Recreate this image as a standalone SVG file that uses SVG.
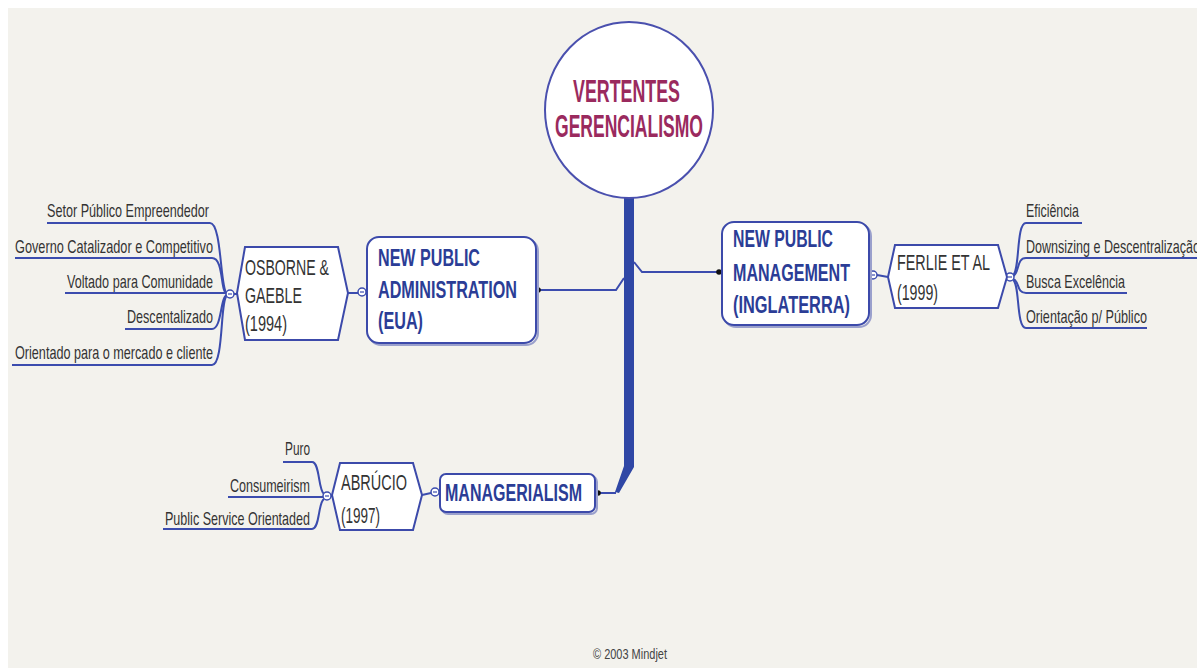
<svg xmlns="http://www.w3.org/2000/svg" width="1197" height="668" viewBox="0 0 1197 668">
<defs>
<style>
.bg{fill:#f3f2ed}
.box{fill:#ffffff;stroke:#3c4aaa;stroke-width:2}
.shadow{fill:none;stroke:#9aa0cc;stroke-width:2}
.hex{fill:#ffffff;stroke:#3c4aaa;stroke-width:2}
.ntext{font-family:"Liberation Sans",Arial,sans-serif;font-weight:bold;font-size:24px;fill:#2b3d96}
.htext{font-family:"Liberation Sans",Arial,sans-serif;font-size:22px;fill:#333333}
.ltext{font-family:"Liberation Sans",Arial,sans-serif;font-size:19px;fill:#333333}
.ctext{font-family:"Liberation Sans",Arial,sans-serif;font-weight:bold;font-size:31px;fill:#9a2a5e}
.copy{font-family:"Liberation Sans",Arial,sans-serif;font-size:14px;fill:#444444}
.line{fill:none;stroke:#3b4cae;stroke-width:2}
.knob{fill:#ffffff;stroke:#3b4cae;stroke-width:1.5}
.dash{stroke:#3b4cae;stroke-width:1.2}
.dot{fill:#111111}
</style>
</defs>
<rect x="0" y="0" width="1197" height="668" fill="#ffffff"/>
<rect class="bg" x="8" y="8" width="1189" height="660"/>

<g id="connectors">
  <polygon points="624,196 634,196 634,467 619,493 615,492 624,466" fill="#2f47a5"/>
  <path class="line" d="M598,493 H616"/>
  <path class="line" d="M634,262 L642,272 H719"/>
  <path class="line" d="M624,278 L616,290 H537"/>
  <path class="line" d="M348,293 H358"/>
  <path class="line" d="M877,275 L888,277"/>
  <path class="line" d="M422,495 L431,493"/>
  <!-- Osborne leaves -->
  <path class="line" d="M234,294 H238"/>
  <path class="line" d="M47,223 H210 C222,223 220,290 227,294"/>
  <path class="line" d="M15,258 H212 C224,258 220,292 227,294"/>
  <path class="line" d="M65,293 H226"/>
  <path class="line" d="M125,329 H212 C222,329 220,297 227,295"/>
  <path class="line" d="M12,365 H212 C224,365 220,298 227,296"/>
  <!-- Ferlie leaves -->
  <path class="line" d="M1013,275 C1020,271 1016,223 1026,223 H1082"/>
  <path class="line" d="M1013,276 C1020,273 1016,258 1026,258 H1197"/>
  <path class="line" d="M1013,279 C1020,281 1016,293 1026,293 H1127"/>
  <path class="line" d="M1013,280 C1020,284 1016,328 1026,328 H1147"/>
  <!-- Abrucio leaves -->
  <path class="line" d="M330,496 H333"/>
  <path class="line" d="M283,462 H312 C320,462 318,490 324,494"/>
  <path class="line" d="M228,497 H323"/>
  <path class="line" d="M163,529 H312 C320,529 318,502 324,499"/>
  <!-- knobs -->
  <circle class="dot" cx="719" cy="272" r="2.8"/>
  <circle class="dot" cx="538" cy="290" r="2.8"/>
  <circle class="dot" cx="598" cy="493" r="2.8"/>
  <circle class="knob" cx="362" cy="292" r="4"/><line class="dash" x1="360" y1="292" x2="364" y2="292"/>
  <circle class="knob" cx="230" cy="294" r="4"/><line class="dash" x1="228" y1="294" x2="232" y2="294"/>
  <circle class="knob" cx="873" cy="275" r="4"/><line class="dash" x1="871" y1="275" x2="875" y2="275"/>
  <circle class="knob" cx="1010" cy="277" r="4"/><line class="dash" x1="1008" y1="277" x2="1012" y2="277"/>
  <circle class="knob" cx="435" cy="492" r="4"/><line class="dash" x1="433" y1="492" x2="437" y2="492"/>
  <circle class="knob" cx="327" cy="496" r="4"/><line class="dash" x1="325" y1="496" x2="329" y2="496"/>
</g>

<g id="center">
  <ellipse cx="629" cy="110" rx="84" ry="88" fill="#ffffff" stroke="#4a50ae" stroke-width="2"/>
  <text class="ctext" x="573" y="102" textLength="107" lengthAdjust="spacingAndGlyphs">VERTENTES</text>
  <text class="ctext" x="555" y="137" textLength="148" lengthAdjust="spacingAndGlyphs">GERENCIALISMO</text>
</g>

<g id="npa">
  <rect class="shadow" x="369" y="239" width="169" height="106" rx="12"/>
  <rect class="box" x="367" y="237" width="169" height="106" rx="12"/>
  <text class="ntext" x="378" y="266" textLength="102" lengthAdjust="spacingAndGlyphs">NEW PUBLIC</text>
  <text class="ntext" x="378" y="298" textLength="139" lengthAdjust="spacingAndGlyphs">ADMINISTRATION</text>
  <text class="ntext" x="378" y="329" textLength="45" lengthAdjust="spacingAndGlyphs">(EUA)</text>
</g>

<g id="osborne">
  <polygon class="hex" points="245,247 338,247 348,293 338,340 245,340 237,293"/>
  <text class="htext" x="245" y="275" textLength="84" lengthAdjust="spacingAndGlyphs">OSBORNE &amp;</text>
  <text class="htext" x="245" y="303" textLength="57" lengthAdjust="spacingAndGlyphs">GAEBLE</text>
  <text class="htext" x="245" y="331" textLength="42" lengthAdjust="spacingAndGlyphs">(1994)</text>
</g>

<g id="osborne-leaves">
  <text class="ltext" x="47" y="217" textLength="162" lengthAdjust="spacingAndGlyphs">Setor Público Empreendedor</text>
  <text class="ltext" x="15" y="253" textLength="198" lengthAdjust="spacingAndGlyphs">Governo Catalizador e Competitivo</text>
  <text class="ltext" x="67" y="288" textLength="146" lengthAdjust="spacingAndGlyphs">Voltado para Comunidade</text>
  <text class="ltext" x="127" y="323" textLength="86" lengthAdjust="spacingAndGlyphs">Descentalizado</text>
  <text class="ltext" x="15" y="359" textLength="198" lengthAdjust="spacingAndGlyphs">Orientado para o mercado e cliente</text>
</g>

<g id="npm">
  <rect class="shadow" x="724" y="224" width="147" height="103" rx="12"/>
  <rect class="box" x="722" y="222" width="147" height="103" rx="12"/>
  <text class="ntext" x="733" y="247" textLength="100" lengthAdjust="spacingAndGlyphs">NEW PUBLIC</text>
  <text class="ntext" x="733" y="281" textLength="117" lengthAdjust="spacingAndGlyphs">MANAGEMENT</text>
  <text class="ntext" x="733" y="313" textLength="117" lengthAdjust="spacingAndGlyphs">(INGLATERRA)</text>
</g>

<g id="ferlie">
  <polygon class="hex" points="895,245 998,245 1007,277 998,308 895,308 888,277"/>
  <text class="htext" x="897" y="270" textLength="93" lengthAdjust="spacingAndGlyphs">FERLIE ET AL</text>
  <text class="htext" x="897" y="300" textLength="41" lengthAdjust="spacingAndGlyphs">(1999)</text>
</g>

<g id="ferlie-leaves">
  <text class="ltext" x="1026" y="217" textLength="53" lengthAdjust="spacingAndGlyphs">Eficiência</text>
  <text class="ltext" x="1026" y="253" textLength="174" lengthAdjust="spacingAndGlyphs">Downsizing e Descentralização</text>
  <text class="ltext" x="1026" y="288" textLength="99" lengthAdjust="spacingAndGlyphs">Busca Excelência</text>
  <text class="ltext" x="1026" y="323" textLength="121" lengthAdjust="spacingAndGlyphs">Orientação p/ Público</text>
</g>

<g id="managerialism">
  <rect class="shadow" x="442" y="476" width="155" height="38" rx="6"/>
  <rect class="box" x="440" y="474" width="155" height="38" rx="6"/>
  <text class="ntext" x="445" y="501" textLength="137" lengthAdjust="spacingAndGlyphs">MANAGERIALISM</text>
</g>

<g id="abrucio">
  <polygon class="hex" points="340,463 413,463 422,495 413,530 340,530 332,495"/>
  <text class="htext" x="341" y="490" textLength="66" lengthAdjust="spacingAndGlyphs">ABRÚCIO</text>
  <text class="htext" x="341" y="523" textLength="39" lengthAdjust="spacingAndGlyphs">(1997)</text>
</g>

<g id="abrucio-leaves">
  <text class="ltext" x="285" y="455" textLength="25" lengthAdjust="spacingAndGlyphs">Puro</text>
  <text class="ltext" x="230" y="492" textLength="80" lengthAdjust="spacingAndGlyphs">Consumeirism</text>
  <text class="ltext" x="165" y="525" textLength="145" lengthAdjust="spacingAndGlyphs">Public Service Orientaded</text>
</g>

<text class="copy" x="593" y="659" textLength="74" lengthAdjust="spacingAndGlyphs">© 2003 Mindjet</text>
</svg>
